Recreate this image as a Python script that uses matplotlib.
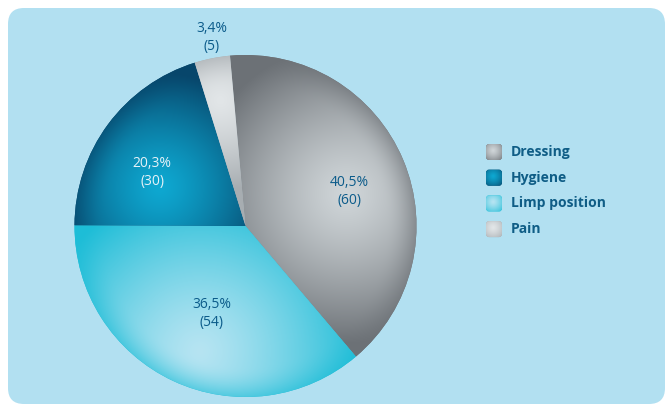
import numpy as np
import matplotlib
matplotlib.use("Agg")
import matplotlib.pyplot as plt
from matplotlib.patches import FancyBboxPatch
from matplotlib.colors import to_rgb

# data (pie drawn clockwise in this order)
categories = ["Dressing", "Limp position", "Hygiene", "Pain"]
counts = [60, 54, 30, 5]
percents = [40.5, 36.5, 20.3, 3.4]
legend_order = ["Dressing", "Hygiene", "Limp position", "Pain"]

W, H = 667, 407
cx, cy, R = 245.5, H - 226, 171

# light / dark colour for each slice gradient
shades = {
    "Dressing": ("#cfd5d8", "#6c7176"),
    "Limp position": ("#b6e4f2", "#1dbdd7"),
    "Hygiene": ("#0ea8d1", "#07466b"),
    "Pain": ("#e2e6e8", "#a7adb1"),
}
# highlight spot (fraction of radius, angle offset from slice middle) and spread
spots = {
    "Dressing": (0.62, -5, 150),
    "Limp position": (0.78, 5, 165),
    "Hygiene": (0.55, 12, 115),
    "Pain": (0.75, 0, 90),
}
label_pos = {  # radial fraction and angle offset for the text
    "Dressing": (0.64, -4.5),
    "Limp position": (0.55, 4),
    "Hygiene": (0.63, 6.5),
    "Pain": (1.12, -1),
}
text_col = {"Hygiene": "#e6f2f8"}

fig = plt.figure(figsize=(W / 100, H / 100), dpi=100)
ax = fig.add_axes([0, 0, 1, 1])
fig.patch.set_facecolor("white")

panel = FancyBboxPatch((8, 3), 657, 396, boxstyle="round,pad=0,rounding_size=16",
                       fc="#b2e0f1", ec="none", zorder=0)
ax.add_patch(panel)

wedges, _ = ax.pie(counts, center=(cx, cy), radius=R, startangle=95.2,
                   counterclock=False, wedgeprops=dict(linewidth=0))

yy, xx = np.mgrid[0:H, 0:W] + 0.5
rho = np.hypot(xx - cx, yy - cy) / R


def shade_img(light, dark, hx, hy, spread, rim=True):
    d = np.hypot(xx - hx, yy - hy) / spread
    t = np.clip(d, 0, 1) ** 1.3
    if rim:
        rr = np.clip((rho - 0.82) / 0.18, 0, 1) ** 2
        t = 1 - (1 - t) * (1 - 0.55 * rr)
    a, b = np.array(to_rgb(light)), np.array(to_rgb(dark))
    return a * (1 - t[..., None]) + b * t[..., None]


for w, name, cnt, pct in zip(wedges, categories, counts, percents):
    light, dark = shades[name]
    w.set_facecolor(dark)
    mid = (w.theta1 + w.theta2) / 2
    fr, off, spread = spots[name]
    a = np.radians(mid + off)
    img = shade_img(light, dark, cx + fr * R * np.cos(a), cy + fr * R * np.sin(a), spread)
    im = ax.imshow(img, extent=(0, W, 0, H), origin="lower", zorder=w.get_zorder() + 0.1,
                   interpolation="bilinear")
    im.set_clip_path(w)

    lr, loff = label_pos[name]
    a = np.radians(mid + loff)
    lbl = f"{pct:.1f}%".replace(".", ",") + f"\n({cnt})"
    ax.text(cx + lr * R * np.cos(a), cy + lr * R * np.sin(a), lbl, ha="center", va="center",
            fontsize=10, family="Open Sans", color=text_col.get(name, "#0b5b8a"),
            linespacing=1.25, zorder=5)

# legend with rounded gradient swatches
for i, name in enumerate(legend_order):
    y = H - 152 - i * 25.7
    x0, s = 486, 16
    box = FancyBboxPatch((x0, y - s / 2), s, s, boxstyle="round,pad=0,rounding_size=3",
                         fc=shades[name][1], ec="none", zorder=3)
    ax.add_patch(box)
    light, dark = shades[name]
    img = shade_img(light, dark, x0 + s * 0.45, y + s * 0.1, s * 0.9, rim=False)
    im = ax.imshow(img, extent=(0, W, 0, H), origin="lower", zorder=3.1, interpolation="bilinear")
    im.set_clip_path(box)
    ax.text(x0 + s + 9, y, name, ha="left", va="center", fontsize=10, family="Open Sans",
            weight="bold", color="#0f5d86", zorder=5)

ax.set_xlim(0, W)
ax.set_ylim(0, H)
ax.set_aspect("auto")
ax.axis("off")

fig.savefig("out.png", dpi=100, facecolor="white")
